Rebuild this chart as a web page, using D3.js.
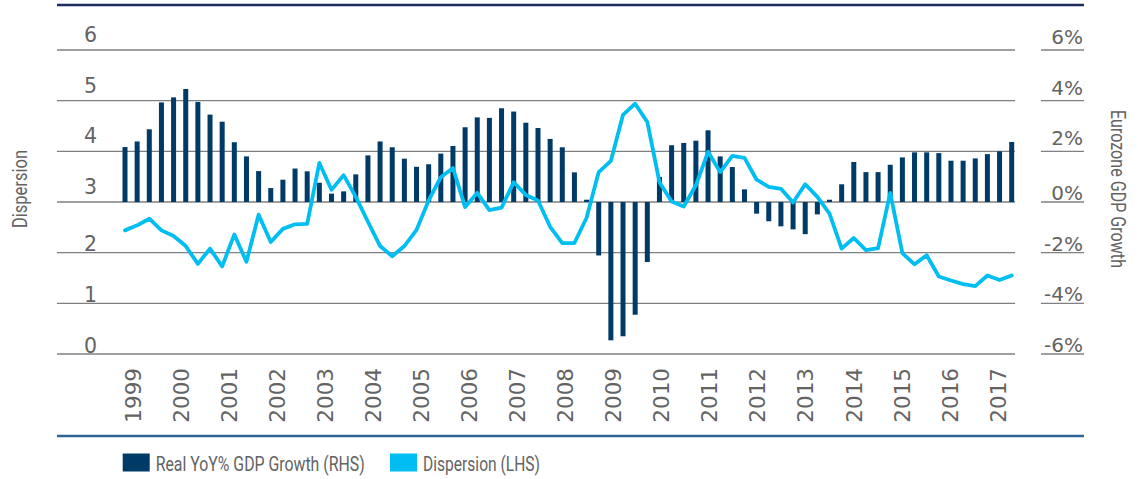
<!DOCTYPE html>
<html>
<head>
<meta charset="utf-8">
<script src="https://cdn.jsdelivr.net/npm/d3@7/dist/d3.min.js"></script>
<style>
  html, body { margin: 0; padding: 0; background: #fff; }
  svg { display: block; }
</style>
</head>
<body>
<svg id="chart" width="1138" height="479"></svg>
<script>
// ---- data ----
const years = [1999,2000,2001,2002,2003,2004,2005,2006,2007,2008,2009,2010,2011,2012,2013,2014,2015,2016,2017];
const quarters = [];
years.forEach(y => { for (let q = 1; q <= 4; q++) { if (y === 2017 && q > 2) break; quarters.push(y + "Q" + q); } });

const gdpGrowth = [
  2.17, 2.39, 2.87, 3.93, 4.13, 4.46, 3.95, 3.45, 3.17, 2.36,
  1.80, 1.22, 0.55, 0.88, 1.32, 1.21, 0.76, 0.33, 0.42, 1.09,
  1.84, 2.39, 2.16, 1.71, 1.39, 1.49, 1.91, 2.21, 2.95, 3.34,
  3.32, 3.70, 3.57, 3.13, 2.92, 2.49, 2.16, 1.17, 0.09, -2.11,
  -5.46, -5.30, -4.45, -2.37, 0.99, 2.24, 2.33, 2.42, 2.83, 1.80,
  1.38, 0.50, -0.46, -0.76, -0.96, -1.08, -1.27, -0.49, 0.09, 0.70,
  1.58, 1.18, 1.18, 1.47, 1.76, 1.96, 1.96, 1.93, 1.63, 1.63,
  1.72, 1.89, 2.00, 2.37
];
const dispersion = [
  2.44, 2.54, 2.67, 2.44, 2.33, 2.13, 1.78, 2.08, 1.73, 2.36,
  1.82, 2.75, 2.21, 2.47, 2.56, 2.57, 3.77, 3.24, 3.53, 3.10,
  2.61, 2.13, 1.93, 2.13, 2.45, 3.03, 3.49, 3.67, 2.90, 3.18,
  2.84, 2.89, 3.39, 3.14, 3.03, 2.51, 2.19, 2.19, 2.69, 3.59,
  3.81, 4.72, 4.94, 4.58, 3.39, 3.01, 2.91, 3.33, 3.99, 3.59,
  3.91, 3.87, 3.44, 3.30, 3.26, 2.99, 3.35, 3.10, 2.77, 2.08,
  2.29, 2.05, 2.09, 3.18, 1.99, 1.77, 1.95, 1.53, 1.45, 1.38,
  1.34, 1.55, 1.46, 1.55
];
const leftTicks = [0,1,2,3,4,5,6];
const rightTicks = [-6,-4,-2,0,2,4,6];
const legendItems = [
  {label: "Real YoY% GDP Growth (RHS)", color: "#003a66"},
  {label: "Dispersion (LHS)", color: "#00bef2"}
];

// ---- layout ----
const svg = d3.select("#chart");
const plotLeft = 57, plotRight = 1015, plotTop = 50, plotBottom = 354;
const x = d3.scalePoint().domain(quarters).range([125, 1011.7]);
const xYear = d3.scaleLinear().domain([1999, 2017]).range([133.5, 997.8]);
const yL = d3.scaleLinear().domain([0, 6]).range([plotBottom, plotTop]);
const yR = d3.scaleLinear().domain([-6, 6]).range([plotBottom, plotTop]);

const tickFont = "'DejaVu Sans', sans-serif";
const condFont = "Roboto, 'Open Sans', sans-serif";
const textColor = "#636363";

// top rule
svg.append("line").attr("x1", 57).attr("x2", 1084).attr("y1", 5).attr("y2", 5)
  .attr("stroke", "#1d2b5c").attr("stroke-width", 2.5);

// gridlines (left part)
svg.append("g").selectAll("line").data(leftTicks).join("line")
  .attr("x1", plotLeft).attr("x2", plotRight)
  .attr("y1", d => yL(d)).attr("y2", d => yL(d))
  .attr("stroke", "#808080").attr("stroke-width", 1.4);
// short lines under right labels
svg.append("g").selectAll("line").data(rightTicks).join("line")
  .attr("x1", 1041).attr("x2", 1084)
  .attr("y1", d => yR(d)).attr("y2", d => yR(d))
  .attr("stroke", "#808080").attr("stroke-width", 1.4);

// left tick labels
svg.append("g").selectAll("text").data(leftTicks).join("text")
  .attr("x", 97).attr("y", d => yL(d) - (d >= 3 ? 8 : 1.5))
  .attr("text-anchor", "end")
  .attr("font-family", tickFont).attr("font-size", 20.5).attr("fill", textColor)
  .text(d => d);

// right tick labels
svg.append("g").selectAll("text").data(rightTicks).join("text")
  .attr("x", 1083).attr("y", d => yR(d) - (d > 0 ? 6 : 2))
  .attr("text-anchor", "end")
  .attr("font-family", tickFont).attr("font-size", 20).attr("fill", textColor)
  .text(d => d + "%");

// bars
const barW = 5;
svg.append("g").selectAll("rect").data(gdpGrowth).join("rect")
  .attr("x", (d, i) => x(quarters[i]) - barW / 2)
  .attr("width", barW)
  .attr("y", d => Math.min(yR(d), yR(0)))
  .attr("height", d => Math.abs(yR(d) - yR(0)))
  .attr("fill", "#003a66");

// dispersion line
const line = d3.line().x((d, i) => x(quarters[i])).y(d => yL(d));
svg.append("path").datum(dispersion)
  .attr("d", line)
  .attr("fill", "none").attr("stroke", "#00bef2")
  .attr("stroke-width", 3.8).attr("stroke-linejoin", "round").attr("stroke-linecap", "round");

// year labels
svg.append("g").selectAll("text").data(years).join("text")
  .attr("transform", d => `translate(${xYear(d)},368) rotate(-90)`)
  .attr("text-anchor", "end").attr("dy", "0.36em")
  .attr("font-family", tickFont).attr("font-size", 21.5).attr("fill", textColor)
  .text(d => d);

// bottom axis rule
svg.append("line").attr("x1", 57).attr("x2", 1084).attr("y1", 436).attr("y2", 436)
  .attr("stroke", "#2e6490").attr("stroke-width", 2.5);

// axis titles (condensed look via textLength)
svg.append("text")
  .attr("transform", "translate(20,189) rotate(-90)")
  .attr("text-anchor", "middle").attr("dy", "0.35em")
  .attr("font-family", condFont).attr("font-size", 20).attr("fill", textColor)
  .attr("textLength", 78).attr("lengthAdjust", "spacingAndGlyphs")
  .text("Dispersion");
svg.append("text")
  .attr("transform", "translate(1118,189) rotate(90)")
  .attr("text-anchor", "middle").attr("dy", "0.35em")
  .attr("font-family", condFont).attr("font-size", 20).attr("fill", textColor)
  .attr("textLength", 158).attr("lengthAdjust", "spacingAndGlyphs")
  .text("Eurozone GDP Growth");

// legend
const legendX = [122.7, 390];
const legendLen = [209, 117];
const lg = svg.append("g").selectAll("g").data(legendItems).join("g")
  .attr("transform", (d, i) => `translate(${legendX[i]},453.5)`);
lg.append("rect").attr("width", 27).attr("height", 18).attr("fill", d => d.color);
lg.append("text").attr("x", 33).attr("y", 17.5)
  .attr("font-family", condFont).attr("font-size", 21).attr("fill", textColor)
  .attr("textLength", (d, i) => legendLen[i]).attr("lengthAdjust", "spacingAndGlyphs")
  .text(d => d.label);
</script>
</body>
</html>
